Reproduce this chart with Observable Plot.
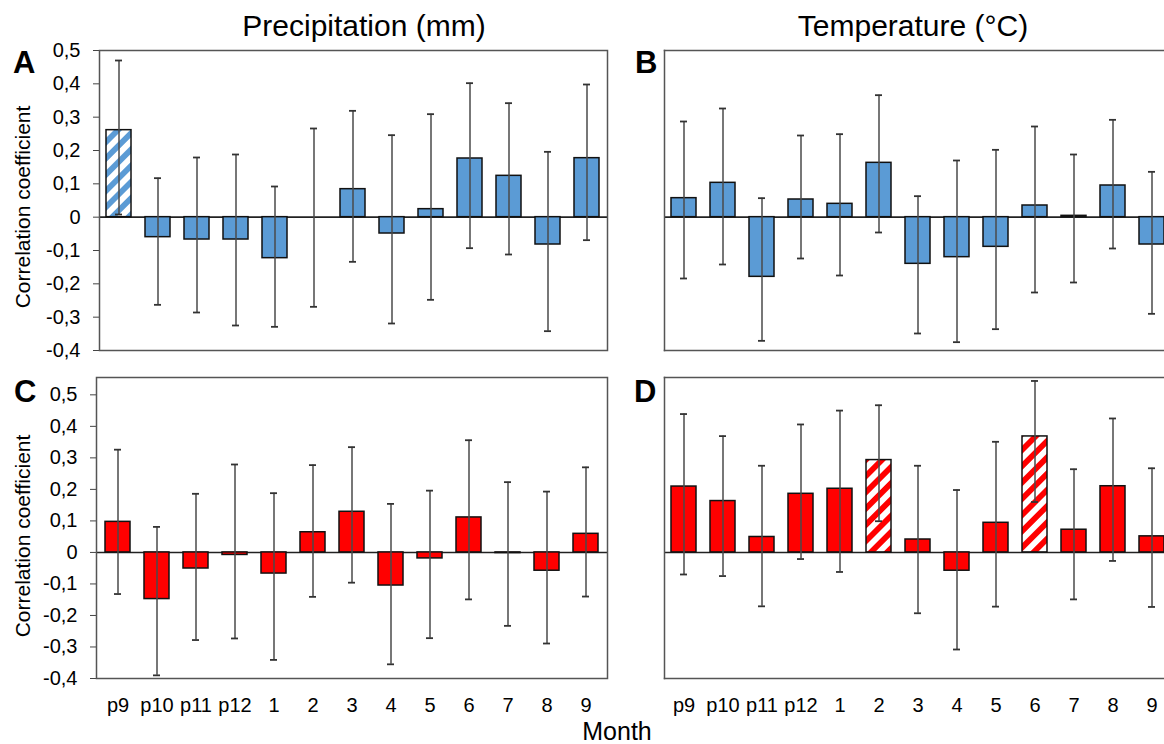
<!DOCTYPE html>
<html>
<head>
<meta charset="utf-8">
<script src="https://cdn.jsdelivr.net/npm/d3@7"></script>
<script src="https://cdn.jsdelivr.net/npm/@observablehq/plot@0.6"></script>
<style>
  html, body { margin: 0; padding: 0; background: #fff; overflow: hidden; }
  #chart { position: relative; width: 1164px; height: 744px; overflow: hidden; font-family: "Liberation Sans", Arial, sans-serif; }
  .panel { position: absolute; overflow: hidden; }
  .panel svg { max-width: none !important; }
  #overlay { position: absolute; left: 0; top: 0; pointer-events: none; }
  #overlay text { font-family: "Liberation Sans", Arial, sans-serif; fill: #000; }
</style>
</head>
<body>
<div id="chart">
  <svg width="0" height="0" style="position:absolute">
    <defs>
      <pattern id="hatchBlue" patternUnits="userSpaceOnUse" width="11.5" height="11.5" patternTransform="rotate(45)">
        <rect width="11.5" height="11.5" fill="#ffffff"></rect>
        <rect width="5.75" height="11.5" fill="#5b9bd5"></rect>
      </pattern>
      <pattern id="hatchRed" patternUnits="userSpaceOnUse" width="11.5" height="11.5" patternTransform="rotate(45)">
        <rect width="11.5" height="11.5" fill="#ffffff"></rect>
        <rect width="5.75" height="11.5" fill="#ff0000"></rect>
      </pattern>
    </defs>
  </svg>
</div>
<script>
// ---------- data ----------
const months = ["p9", "p10", "p11", "p12", "1", "2", "3", "4", "5", "6", "7", "8", "9"];
const yTicks = [-0.4, -0.3, -0.2, -0.1, 0, 0.1, 0.2, 0.3, 0.4, 0.5];

// Panel A: precipitation, first variable (blue)
const aValue = [0.261, -0.060, -0.067, -0.067, -0.123, 0.000, 0.084, -0.049, 0.024, 0.176, 0.124, -0.082, 0.177];
const aLow   = [0.008, -0.263, -0.286, -0.325, -0.329, -0.269, -0.134, -0.319, -0.248, -0.093, -0.112, -0.342, -0.069];
const aHigh  = [0.470, 0.117, 0.179, 0.188, 0.092, 0.266, 0.319, 0.246, 0.309, 0.402, 0.342, 0.196, 0.398];
const aSignificant = ["p9"];

// Panel B: temperature, first variable (blue)
const bValue = [0.057, 0.103, -0.179, 0.053, 0.040, 0.163, -0.140, -0.120, -0.089, 0.035, 0.004, 0.095, -0.082];
const bLow   = [-0.184, -0.142, -0.371, -0.124, -0.175, -0.046, -0.349, -0.375, -0.336, -0.226, -0.196, -0.094, -0.290];
const bHigh  = [0.287, 0.326, 0.057, 0.245, 0.249, 0.366, 0.063, 0.170, 0.202, 0.272, 0.188, 0.292, 0.136];
const bSignificant = [];

// Panel C: precipitation, second variable (red)
const cValue = [0.097, -0.148, -0.051, -0.008, -0.067, 0.064, 0.129, -0.105, -0.019, 0.111, -0.002, -0.058, 0.059];
const cLow   = [-0.132, -0.390, -0.278, -0.273, -0.341, -0.141, -0.096, -0.355, -0.272, -0.149, -0.233, -0.289, -0.140];
const cHigh  = [0.326, 0.081, 0.186, 0.279, 0.188, 0.277, 0.334, 0.154, 0.196, 0.356, 0.223, 0.193, 0.270];
const cSignificant = [];

// Panel D: temperature, second variable (red)
const dValue = [0.209, 0.163, 0.049, 0.186, 0.202, 0.293, 0.041, -0.058, 0.094, 0.368, 0.072, 0.210, 0.051];
const dLow   = [-0.070, -0.075, -0.171, -0.021, -0.062, 0.099, -0.193, -0.308, -0.172, 0.160, -0.149, -0.027, -0.173];
const dHigh  = [0.439, 0.369, 0.275, 0.406, 0.450, 0.467, 0.275, 0.198, 0.351, 0.544, 0.264, 0.425, 0.267];
const dSignificant = ["2", "6"];

const blue = "#5b9bd5";
const red = "#ff0000";

// ---------- helpers ----------
const fmt = d => d === 0 ? "0" : d.toFixed(1).replace(".", ",");

function table(values, low, high, sig) {
  return months.map((m, i) => ({ m, v: values[i], lo: low[i], hi: high[i], sig: sig.includes(m) }));
}

function panel({ data, color, hatch, yDomain, showY, showX, openRight, width, height, margin }) {
  const plain = data.filter(d => !d.sig);
  const marked = data.filter(d => d.sig);
  const frameStyle = { stroke: "#555", strokeWidth: 1.5 };
  const frames = openRight
    ? [Plot.frame({ ...frameStyle, anchor: "left" }), Plot.frame({ ...frameStyle, anchor: "top" }), Plot.frame({ ...frameStyle, anchor: "bottom" })]
    : [Plot.frame(frameStyle)];
  return Plot.plot({
    width, height,
    marginLeft: margin[3], marginTop: margin[0], marginRight: margin[1], marginBottom: margin[2],
    style: { fontFamily: "Liberation Sans, Arial, sans-serif", fontSize: "20px", background: "transparent", overflow: "visible", maxWidth: "none", color: "#000" },
    x: { type: "band", domain: months, paddingInner: 0.35, paddingOuter: 0.175, axis: null },
    y: { domain: yDomain, axis: null },
    marks: [
      showY ? Plot.axisY(yTicks, { tickFormat: fmt, tickSize: 6, tickPadding: 13, fontSize: 20, label: null, stroke: "#444" }) : null,
      showX ? Plot.axisX({ tickSize: 0, tickPadding: 19, fontSize: 20, label: null }) : null,
      Plot.ruleY([0], { stroke: "#222", strokeWidth: 1.6 }),
      Plot.barY(plain, { x: "m", y: "v", fill: color, stroke: "#111", strokeWidth: 1.5 }),
      Plot.barY(marked, { x: "m", y: "v", fill: hatch, stroke: "#111", strokeWidth: 1.5 }),
      Plot.ruleX(data, { x: "m", y1: "lo", y2: "hi", stroke: "#4a4a4a", strokeWidth: 1.5 }),
      Plot.tickY(data, { x: "m", y: "hi", stroke: "#333", strokeWidth: 1.8, insetLeft: 9, insetRight: 9 }),
      Plot.tickY(data, { x: "m", y: "lo", stroke: "#333", strokeWidth: 1.8, insetLeft: 9, insetRight: 9 }),
      ...frames
    ]
  });
}

// ---------- layout ----------
const chart = document.getElementById("chart");
function place(node, left, top, width, height, clipWidth) {
  const div = document.createElement("div");
  div.className = "panel";
  div.style.left = left + "px";
  div.style.top = top + "px";
  div.style.width = clipWidth + "px";
  div.style.height = height + "px";
  node.style.width = width + "px";
  node.style.height = height + "px";
  div.appendChild(node);
  chart.appendChild(div);
}

const topDomain = [-0.4, 0.5];
const bottomDomain = [-0.4, 0.555];

place(panel({ data: table(aValue, aLow, aHigh, aSignificant), color: blue, hatch: "url(#hatchBlue)",
  yDomain: topDomain, showY: true, showX: false, openRight: false, width: 620, height: 360, margin: [50, 13, 10, 99] }), 0, 0, 620, 360, 620);
place(panel({ data: table(bValue, bLow, bHigh, bSignificant), color: blue, hatch: "url(#hatchBlue)",
  yDomain: topDomain, showY: false, showX: false, openRight: true, width: 560, height: 360, margin: [50, 8, 10, 44] }), 620, 0, 560, 360, 544);
place(panel({ data: table(cValue, cLow, cHigh, cSignificant), color: red, hatch: "url(#hatchRed)",
  yDomain: bottomDomain, showY: true, showX: true, openRight: false, width: 620, height: 384, margin: [17, 13, 66, 96] }), 0, 360, 620, 384, 620);
place(panel({ data: table(dValue, dLow, dHigh, dSignificant), color: red, hatch: "url(#hatchRed)",
  yDomain: bottomDomain, showY: false, showX: true, openRight: true, width: 560, height: 384, margin: [17, 8, 66, 44] }), 620, 360, 560, 384, 544);

// ---------- annotations (titles, panel letters, axis titles) ----------
const overlay = d3.select(chart).append("svg").attr("id", "overlay").attr("width", 1164).attr("height", 744);
const titles = [
  { text: "Precipitation (mm)", x: 364, y: 36 },
  { text: "Temperature (°C)", x: 913, y: 36 }
];
overlay.selectAll("text.title").data(titles).join("text").attr("class", "title")
  .attr("x", d => d.x).attr("y", d => d.y).attr("text-anchor", "middle")
  .style("font-size", "30px").text(d => d.text);

const letters = [
  { text: "A", x: 13, y: 73 }, { text: "B", x: 635, y: 73 },
  { text: "C", x: 14, y: 402 }, { text: "D", x: 634, y: 402 }
];
overlay.selectAll("text.letter").data(letters).join("text").attr("class", "letter")
  .attr("x", d => d.x).attr("y", d => d.y)
  .style("font-size", "31px").style("font-weight", "bold").text(d => d.text);

const yLabels = [{ x: 30, y: 207 }, { x: 30, y: 536 }];
overlay.selectAll("text.ylab").data(yLabels).join("text").attr("class", "ylab")
  .attr("transform", d => `translate(${d.x},${d.y}) rotate(-90)`).attr("text-anchor", "middle")
  .style("font-size", "21px").text("Correlation coefficient");

overlay.append("text").attr("x", 617).attr("y", 740).attr("text-anchor", "middle")
  .style("font-size", "25px").text("Month");
</script>
</body>
</html>
